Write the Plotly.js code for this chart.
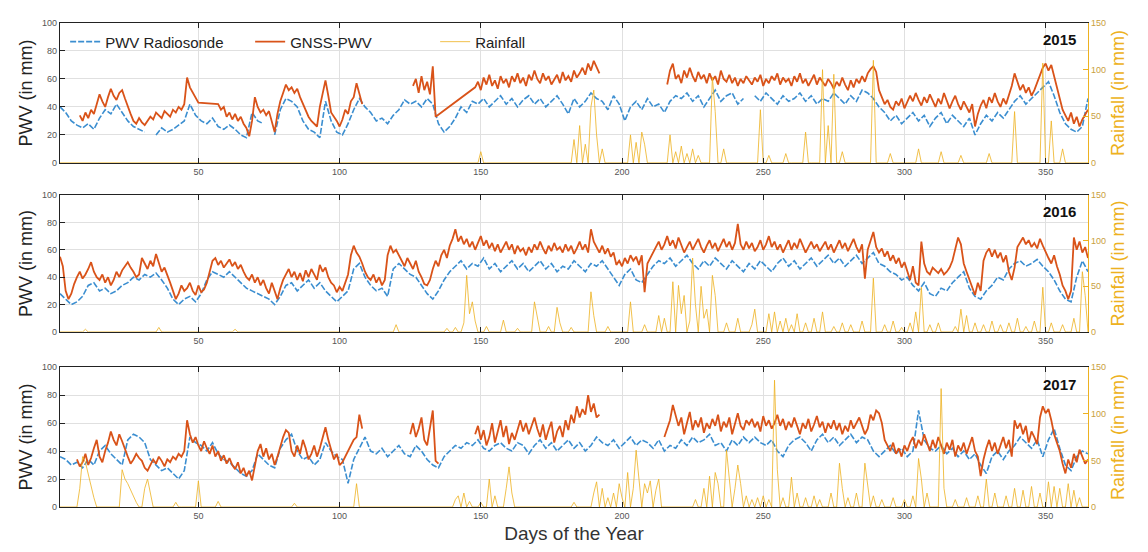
<!DOCTYPE html>
<html>
<head>
<meta charset="utf-8">
<script src="https://cdn.plot.ly/plotly-3.0.1.min.js"></script>
<style>html,body{margin:0;padding:0;background:#fff;}#chart{width:1148px;height:552px;}</style>
</head>
<body>
<div id="chart"></div>
<script>
const N = null, S = undefined; // N = no data (line breaks), S = no sample but line continues

const years = ['2015', '2016', '2017'];
const xTicks = [50, 100, 150, 200, 250, 300, 350];
const pwvTicks = [0, 20, 40, 60, 80, 100];
const rainTicks = [0, 50, 100, 150];

// GNSS-PWV, one value per day (day 1..365)
const gnss2015 = [
N,N,N,N,N,N,N,
34,30,36,32,38,35,
42,49,44,40,47,53,48,45,50,52,46,
40,35,30,28,32,29,
27,30,33,31,36,34,32,37,35,33,38,36,40,38,42,
61,54,50,47,43,
S,S,S,S,S,S,
42,38,40,33,36,31,35,30,33,28,25,
19,30,47,40,36,
38,34,37,30,22,35,44,50,
56,52,54,50,53,47,42,38,
33,30,28,26,40,50,
59,48,36,33,30,26,31,
38,35,44,47,57,50,42,
N,N,N,N,N,N,N,N,N,N,N,N,N,N,N,N,N,
55,60,50,62,52,58,49,69,
33,
S,S,S,S,S,S,S,S,S,S,S,S,S,
54,58,52,61,56,63,55,59,53,62,57,60,54,
62,58,64,57,61,55,63,59,66,60,57,64,59,62,56,
60,63,57,65,59,62,58,66,61,64,
68,63,71,66,73,68,64,
N,N,N,N,N,N,N,N,N,N,N,N,N,N,N,N,N,N,N,N,N,N,N,
56,66,71,60,63,57,66,61,68,62,58,65,60,63,57,
64,59,62,56,66,60,58,63,57,61,55,60,57,62,59,
56,61,58,63,55,60,57,62,59,64,56,61,58,60,55,
62,58,64,57,60,55,59,63,56,61,58,55,60,57,53,
58,55,61,56,52,59,54,60,57,62,58,64,67,69,65,
52,47,42,45,40,38,44,41,46,39,43,48,44,50,45,
41,47,43,49,44,40,46,42,50,45,39,44,48,42,38,
44,40,36,42,26,35,41,45,39,47,43,50,44,40,46,
42,48,55,64,58,52,56,50,54,48,52,57,62,68,71,
66,70,62,55,45,38,34,30,36,28,33,26,31,35,38];

const gnss2016 = [
55,48,30,24,28,35,40,44,39,42,46,51,44,40,38,
42,36,40,34,38,44,40,45,48,51,47,44,40,42,54,
50,46,52,48,57,50,44,47,42,36,30,24,28,34,30,
32,36,30,27,34,29,31,36,44,52,54,49,52,47,50,
53,48,51,46,49,44,40,38,42,36,40,34,38,32,28,
36,30,24,32,38,42,46,40,44,38,43,37,45,40,46,
42,38,49,44,47,40,36,34,29,33,30,36,42,56,63,
58,55,50,44,40,38,42,36,40,34,38,56,63,58,60,
56,52,48,54,50,46,52,44,40,35,34,38,46,52,48,
56,60,54,63,68,75,66,70,64,68,62,66,60,65,70,
63,67,61,65,59,64,58,62,66,60,64,57,63,59,61,
56,62,58,64,60,66,61,57,63,59,65,60,62,58,64,
59,63,57,61,66,60,64,58,75,66,62,58,63,57,61,
55,58,49,52,48,54,50,56,52,55,49,56,29,50,54,
58,62,66,60,64,70,63,67,61,69,64,58,62,66,60,
64,68,62,58,63,67,61,65,59,63,68,62,66,60,65,
79,64,60,66,61,65,59,62,67,60,64,70,62,66,60,
64,58,62,67,60,65,61,68,63,58,62,66,61,64,59,
63,66,60,64,58,62,67,61,65,59,63,68,62,58,64,
39,60,66,73,62,58,61,55,59,52,56,50,54,47,51,
44,38,48,36,34,66,50,44,42,47,45,43,46,42,44,
47,52,60,69,64,50,44,38,32,27,36,30,52,58,61,
55,60,54,58,51,56,44,38,47,62,66,69,64,67,62,
65,61,68,63,58,54,50,56,48,42,34,30,24,30,69,
60,66,58,62,54];

const gnss2017 = [
N,N,N,N,N,N,
34,29,32,38,30,35,42,48,36,
32,40,46,54,48,44,52,47,41,36,31,34,38,35,33,
28,26,30,34,31,36,33,29,34,32,36,34,38,36,40,
62,52,46,50,44,40,47,42,38,44,36,40,33,37,31,
35,30,27,32,24,28,22,26,19,30,40,45,36,42,34,
38,30,36,44,50,55,53,40,36,44,38,48,42,34,38,
44,36,42,50,57,48,40,34,38,30,32,36,40,43,48,
50,66,56,
N,N,N,N,N,N,N,N,N,N,N,N,N,N,N,N,
52,60,50,56,64,48,44,58,69,33,31,
N,N,N,N,N,N,N,N,N,N,N,N,
52,58,48,55,44,50,60,46,54,62,50,58,45,53,48,
56,62,54,60,52,58,64,56,50,59,48,55,61,46,54,
58,50,62,55,66,60,72,64,70,66,80,68,74,64,66,
N,N,N,N,N,N,N,N,N,N,N,N,N,N,N,N,N,N,N,N,N,N,
50,56,62,73,66,58,64,52,60,68,55,62,57,64,53,60,
56,63,58,66,54,61,57,64,52,60,67,58,55,62,59,
63,57,61,54,65,58,62,56,60,66,58,63,55,61,57,
64,58,52,60,56,63,54,59,65,57,61,53,60,56,62,
55,60,52,58,54,62,56,60,64,58,52,56,66,62,69,
67,60,48,44,40,46,38,42,36,44,40,46,50,42,48,
44,52,46,40,48,42,50,44,38,46,41,48,36,44,40,
46,38,44,50,40,36,22,34,42,48,40,46,38,44,50,
42,48,36,62,56,60,52,58,46,54,50,45,64,72,67,
70,62,52,46,40,31,24,34,28,38,32,41,36,31,34];

// Radiosonde PWV, every second day (day 1, 3, 5, ... 365)
const radio2015 = [
40,36,30,27,25,28,24,
32,38,35,42,36,30,26,24,
22,N,20,25,22,24,27,30,
42,34,30,28,32,26,24,27,
24,20,18,36,30,28,N,20,
38,46,44,40,30,24,22,18,
44,30,22,20,28,38,46,40,
36,30,32,28,34,38,45,42,
44,40,46,42,28,22,26,32,
40,36,44,42,46,40,44,48,
42,46,40,45,48,42,46,40,
44,48,42,35,46,40,44,50,
46,44,38,48,42,30,40,44,
38,46,40,42,36,44,48,46,
50,44,48,40,46,52,44,48,
50,42,46,N,48,44,50,46,
42,48,44,46,50,44,48,42,
46,44,50,46,42,48,44,52,
50,46,40,36,30,34,28,32,
36,30,34,26,32,36,28,34,
30,26,32,20,28,34,30,36,
32,38,44,48,42,46,50,54,
58,48,36,28,24,22,26,46];

const radio2016 = [
28,24,20,22,26,34,36,
30,32,28,30,34,36,40,38,
42,40,43,38,32,24,20,24,
26,22,28,38,44,42,40,44,
40,36,32,30,28,26,24,20,
26,34,36,30,34,38,32,36,
30,26,22,26,30,46,50,40,
34,30,32,26,46,50,46,42,
40,34,28,24,30,38,44,48,
52,46,50,48,54,46,50,44,
48,52,46,50,44,48,52,46,
50,44,48,46,52,48,44,50,
48,52,46,40,34,42,46,38,
36,42,48,52,50,54,48,52,
56,50,46,52,48,54,50,46,
52,48,44,50,46,52,48,44,
50,54,48,52,46,50,54,48,
52,56,50,54,48,52,56,50,
54,58,50,48,44,42,38,40,
34,30,36,28,26,32,30,36,
40,44,32,26,24,30,34,40,
38,46,50,52,48,50,53,48,
44,38,30,24,22,40,52,44];

const radio2017 = [
36,34,30,32,28,34,30,
40,44,38,34,30,48,52,50,
46,34,30,26,28,24,20,26,
50,46,44,40,46,38,34,32,
28,24,22,26,38,34,30,28,
42,48,52,40,34,36,30,34,
46,40,36,34,17,34,42,50,
40,38,42,36,40,44,38,36,
44,40,34,30,28,36,40,44,
42,46,44,48,42,40,44,46,
42,40,46,44,38,44,48,42,
46,40,44,48,42,46,40,44,
50,46,44,48,42,46,50,44,
48,46,42,48,40,44,42,48,
44,50,46,48,52,44,46,40,
48,44,50,46,50,46,44,48,
40,36,44,48,50,46,40,48,
52,46,50,44,48,52,46,50,
48,40,36,40,44,38,42,36,
40,69,48,42,40,44,38,42,
36,40,34,38,30,24,36,40,
34,40,44,50,46,42,48,36,
48,56,42,30,26,36,40,38];

// Daily rainfall: days with rain and amount (mm); other days 0
const rainDays2015 = [150,183,185,187,189,190,191,193,203,205,207,208,217,219,221,223,225,227,232,233,236,249,252,258,265,271,273,275,278,289,295,305,313,320,330,339,349,352,356];
const rainMm2015   = [12,25,40,20,60,78,30,15,30,22,33,20,30,12,18,10,15,8,92,55,15,57,8,10,33,100,40,95,12,110,10,15,12,8,10,55,107,45,15];

const rainDays2016 = [10,36,63,120,138,141,144,145,146,147,148,152,158,163,169,170,174,177,178,182,189,190,195,203,208,213,215,218,220,221,222,224,225,226,228,229,230,232,233,237,241,246,247,252,254,256,258,260,262,265,268,271,275,278,281,285,289,293,296,299,302,304,306,309,312,318,320,322,325,328,331,334,337,340,343,346,349,352,356,360,363,364];
const rainMm2016   = [3,5,3,8,4,5,10,62,20,33,12,6,13,4,33,15,6,27,10,5,44,18,6,33,8,18,15,55,51,20,40,12,81,30,50,15,25,62,40,10,15,8,25,20,22,12,15,8,20,10,15,22,6,10,8,12,59,8,12,5,10,22,49,8,10,6,25,18,10,8,12,8,10,15,6,12,49,10,8,15,66,40];

const rainDays2017 = [8,9,10,11,12,13,23,24,25,26,27,28,31,32,33,42,50,57,84,106,141,142,144,146,150,153,155,159,160,161,183,190,191,193,195,197,199,200,202,204,205,206,208,209,210,212,213,226,229,231,233,234,237,238,240,241,242,244,246,248,250,252,254,255,257,260,262,265,268,270,274,277,278,280,283,286,287,289,292,296,300,303,305,306,308,313,314,318,322,326,329,332,336,339,342,345,348,351,353,355,358,360,362];
const rainMm2017   = [20,54,48,35,25,10,40,30,25,18,12,5,20,30,15,5,28,6,4,25,8,12,15,6,5,30,12,20,43,15,5,15,27,20,10,15,25,10,37,20,61,30,25,15,28,18,30,8,20,33,37,25,61,30,20,45,25,12,8,10,12,8,136,40,10,32,15,10,12,8,15,47,20,10,15,47,25,12,8,10,8,12,52,30,15,127,20,8,10,12,30,15,12,20,18,22,15,27,22,20,25,18,10];

const C_BLUE = '#3B8ED0', C_ORANGE = '#D95319', C_GOLD = '#EDB120';

function dailySeries(vals) {
  const x = [], y = [];
  vals.forEach((v, i) => { if (v === undefined) return; x.push(i + 1); y.push(v); });
  return {x, y};
}
function everyOtherDay(vals) {
  return {x: vals.map((v, i) => 1 + 2 * i), y: vals};
}
function rainSeries(days, mm) {
  const x = [], y = [];
  for (let d = 1; d <= 365; d++) { x.push(d); y.push(0); }
  days.forEach((d, i) => { y[d - 1] = mm[i]; });
  return {x, y};
}

const gnss = [gnss2015, gnss2016, gnss2017];
const radio = [radio2015, radio2016, radio2017];
const rainD = [rainDays2015, rainDays2016, rainDays2017];
const rainV = [rainMm2015, rainMm2016, rainMm2017];

const traces = [];
for (let p = 0; p < 3; p++) {
  const xa = p === 0 ? 'x' : 'x' + (p + 1);
  const yl = p === 0 ? 'y' : 'y' + (2 * p + 1);
  const yr = 'y' + (2 * p + 2);
  const r = everyOtherDay(radio[p]);
  traces.push({type: 'scatter', mode: 'lines', name: 'PWV Radiosonde', x: r.x, y: r.y, xaxis: xa, yaxis: yl,
    line: {color: C_BLUE, width: 1.6, dash: '6px,2px'}, showlegend: p === 0, connectgaps: false});
  const g = dailySeries(gnss[p]);
  traces.push({type: 'scatter', mode: 'lines', name: 'GNSS-PWV', x: g.x, y: g.y, xaxis: xa, yaxis: yl,
    line: {color: C_ORANGE, width: 1.8}, showlegend: p === 0, connectgaps: false});
  const rn = rainSeries(rainD[p], rainV[p]);
  traces.push({type: 'scatter', mode: 'lines', name: 'Rainfall', x: rn.x, y: rn.y, xaxis: xa, yaxis: yr,
    line: {color: C_GOLD, width: 1}, opacity: 0.8, showlegend: p === 0});
}

const FONT = 'Liberation Sans, Arial, sans-serif';
const domains = [[0.711, 1.0], [0.3616, 0.6446], [0.0, 0.289]];
const layout = {
  width: 1148, height: 552,
  margin: {l: 60, r: 60, t: 23, b: 45},
  paper_bgcolor: '#fff', plot_bgcolor: '#fff',
  font: {family: FONT, color: '#333'},
  showlegend: true,
  legend: {orientation: 'h', x: 0.005, y: 0.995, xanchor: 'left', yanchor: 'top',
    bgcolor: 'rgba(255,255,255,0)', font: {size: 15, color: '#222'},
    entrywidth: 140, entrywidthmode: 'pixels'},
  annotations: [],
};
for (let p = 0; p < 3; p++) {
  const xk = p === 0 ? 'xaxis' : 'xaxis' + (p + 1);
  const ylk = p === 0 ? 'yaxis' : 'yaxis' + (2 * p + 1);
  const yrk = 'yaxis' + (2 * p + 2);
  const ylId = p === 0 ? 'y' : 'y' + (2 * p + 1);
  const xId = p === 0 ? 'x' : 'x' + (p + 1);
  layout[xk] = {
    domain: [0, 1], anchor: ylId, range: [1, 365], tickvals: xTicks,
    showline: true, linecolor: '#222', linewidth: 1.2, mirror: 'ticks',
    ticks: 'inside', ticklen: 5, tickcolor: '#222',
    showgrid: true, gridcolor: '#e0e0e0', gridwidth: 1, zeroline: false,
    tickfont: {size: 9, color: '#555'},
    title: p === 2 ? {text: 'Days of the Year', font: {size: 19, color: '#333'}, standoff: 6} : {text: ''}
  };
  layout[ylk] = {
    domain: domains[p], anchor: xId, range: [0, 100], tickvals: pwvTicks,
    showline: true, linecolor: '#222', linewidth: 1.2,
    ticks: 'inside', ticklen: 5, tickcolor: '#222',
    showgrid: true, gridcolor: '#e0e0e0', zeroline: false,
    tickfont: {size: 9, color: '#555'},
    title: {text: 'PWV (in mm)', font: {size: 18, color: '#222'}, standoff: 4}
  };
  layout[yrk] = {
    domain: domains[p], anchor: xId, overlaying: ylId, side: 'right', range: [0, 150], tickvals: rainTicks,
    showline: true, linecolor: C_GOLD, linewidth: 1.2,
    ticks: 'inside', ticklen: 5, tickcolor: C_GOLD,
    showgrid: false, zeroline: false,
    tickfont: {size: 9, color: '#c9a040'},
    title: {text: 'Rainfall (in mm)', font: {size: 18, color: C_GOLD}, standoff: 6}
  };
  layout.annotations.push({
    xref: 'paper', yref: 'paper', x: 0.99, y: domains[p][1] - 0.035, xanchor: 'right', yanchor: 'middle',
    text: '<b>' + years[p] + '</b>', showarrow: false, font: {size: 15, color: '#111', family: FONT}
  });
}

Plotly.newPlot('chart', traces, layout, {displayModeBar: false, staticPlot: true});
</script>
</body>
</html>
